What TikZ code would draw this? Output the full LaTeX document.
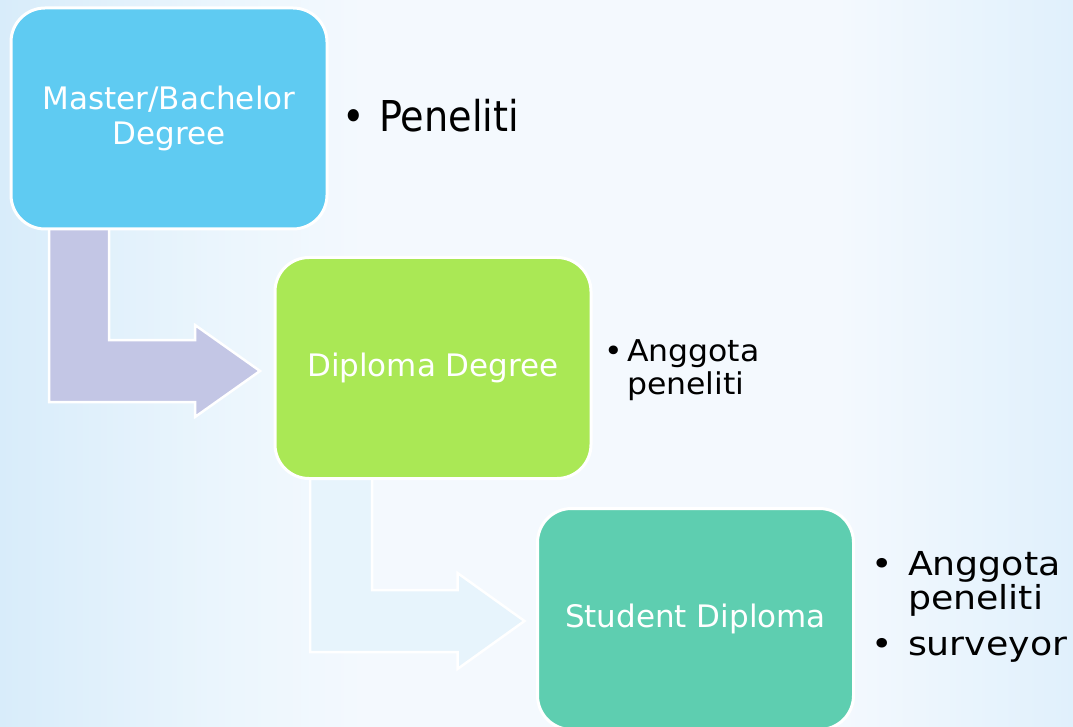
\documentclass[tikz,border=0pt]{standalone}
\usepackage{fontspec}
\setmainfont{DejaVu Sans}
\newfontfamily\fontNarrow[FakeStretch=0.9]{DejaVu Sans}
\newfontfamily\fontMid[FakeStretch=1.05]{DejaVu Sans}
\newfontfamily\fontWide[FakeStretch=1.1]{DejaVu Sans}
\usetikzlibrary{calc,backgrounds}
\definecolor{bgL}{HTML}{D8ECFA}
\definecolor{bgQ}{HTML}{ECF6FD}
\definecolor{bgM}{HTML}{F4F9FE}
\definecolor{bgR}{HTML}{E0F0FC}
\definecolor{boxA}{HTML}{5FCBF2}
\definecolor{boxB}{HTML}{AAE855}
\definecolor{boxC}{HTML}{5ECEB0}
\definecolor{arrA}{HTML}{C3C6E5}
\definecolor{arrB}{HTML}{E7F4FC}
\pgfdeclarehorizontalshading{bgband}{100bp}{color(0bp)=(bgL); color(25bp)=(bgL); color(36bp)=(bgQ); color(42bp)=(bgM); color(64bp)=(bgM); color(75bp)=(bgR); color(100bp)=(bgR)}
\begin{document}
\begin{tikzpicture}[x=1pt,y=-1pt,
  box/.style={rounded corners=34pt, draw=white, line width=3pt, outer sep=0pt,
    minimum width=316pt, minimum height=221pt, inner sep=0pt,
    text=white, align=center, font=\fontsize{31}{35}\selectfont},
  bentarrow/.style={draw=white, line width=2.5pt, line join=miter},
  item/.style={anchor=base west, inner sep=0pt, outer sep=0pt, text=black}]
\useasboundingbox (0,0) rectangle (1073,727);
% boxes
\node[box, fill=boxA] (b1) at (169,118.5) {Master/Bachelor\\Degree};
\node[box, fill=boxB] (b2) at (433,368) {Diploma Degree};
\node[box, fill=boxC] (b3) at (695.5,619) {Student Diploma};
\begin{scope}[on background layer]
  \shade[shading=bgband] (0,0) rectangle (1073,727);
  % arrow from b1 to b2
  \draw[bentarrow, fill=arrA]
    ($(b1.south west)+(38,-3)$) coordinate (p1)
    -- ++(60,0)
    |- ($(b2.west)+(-80,-28)$)
    -- ++(0,-15)
    -- ($(b2.west)+(-15,3)$) coordinate (t1)
    -- ($(b2.west)+(-80,49)$)
    -- ++(0,-15)
    -| (p1) -- cycle;
  % arrow from b2 to b3
  \draw[bentarrow, fill=arrB]
    ($(b2.south west)+(35,-3)$) coordinate (p2)
    -- ++(62,0)
    |- ($(b3.west)+(-80,-29)$)
    -- ++(0,-17)
    -- ($(b3.west)+(-13,2)$) coordinate (t2)
    -- ($(b3.west)+(-80,50)$)
    -- ++(0,-17)
    -| (p2) -- cycle;
\end{scope}
% bullet lists
\node[item, font=\fontNarrow\fontsize{42.5}{46}\selectfont] (u1) at (342,132) {•};
\node[item, font=\fontNarrow\fontsize{42.5}{46}\selectfont] (i1) at (379,132) {Peneliti};
\node[item, font=\fontMid\fontsize{30}{34}\selectfont] (u2) at (604,361) {•};
\node[item, font=\fontMid\fontsize{30}{34}\selectfont] (i2a) at (627,361) {Anggota};
\node[item, font=\fontMid\fontsize{30}{34}\selectfont] (i2b) at (627,394) {peneliti};
\node[item, font=\fontWide\fontsize{33}{36}\selectfont] (u3a) at (871,575) {•};
\node[item, font=\fontWide\fontsize{33}{36}\selectfont] (i3a) at (908,575) {Anggota};
\node[item, font=\fontWide\fontsize{33}{36}\selectfont] (i3b) at (908,609) {peneliti};
\node[item, font=\fontWide\fontsize{33}{36}\selectfont] (u3b) at (871,655) {•};
\node[item, font=\fontWide\fontsize{33}{36}\selectfont] (i3c) at (908,655) {surveyor};
\end{tikzpicture}
\end{document}
